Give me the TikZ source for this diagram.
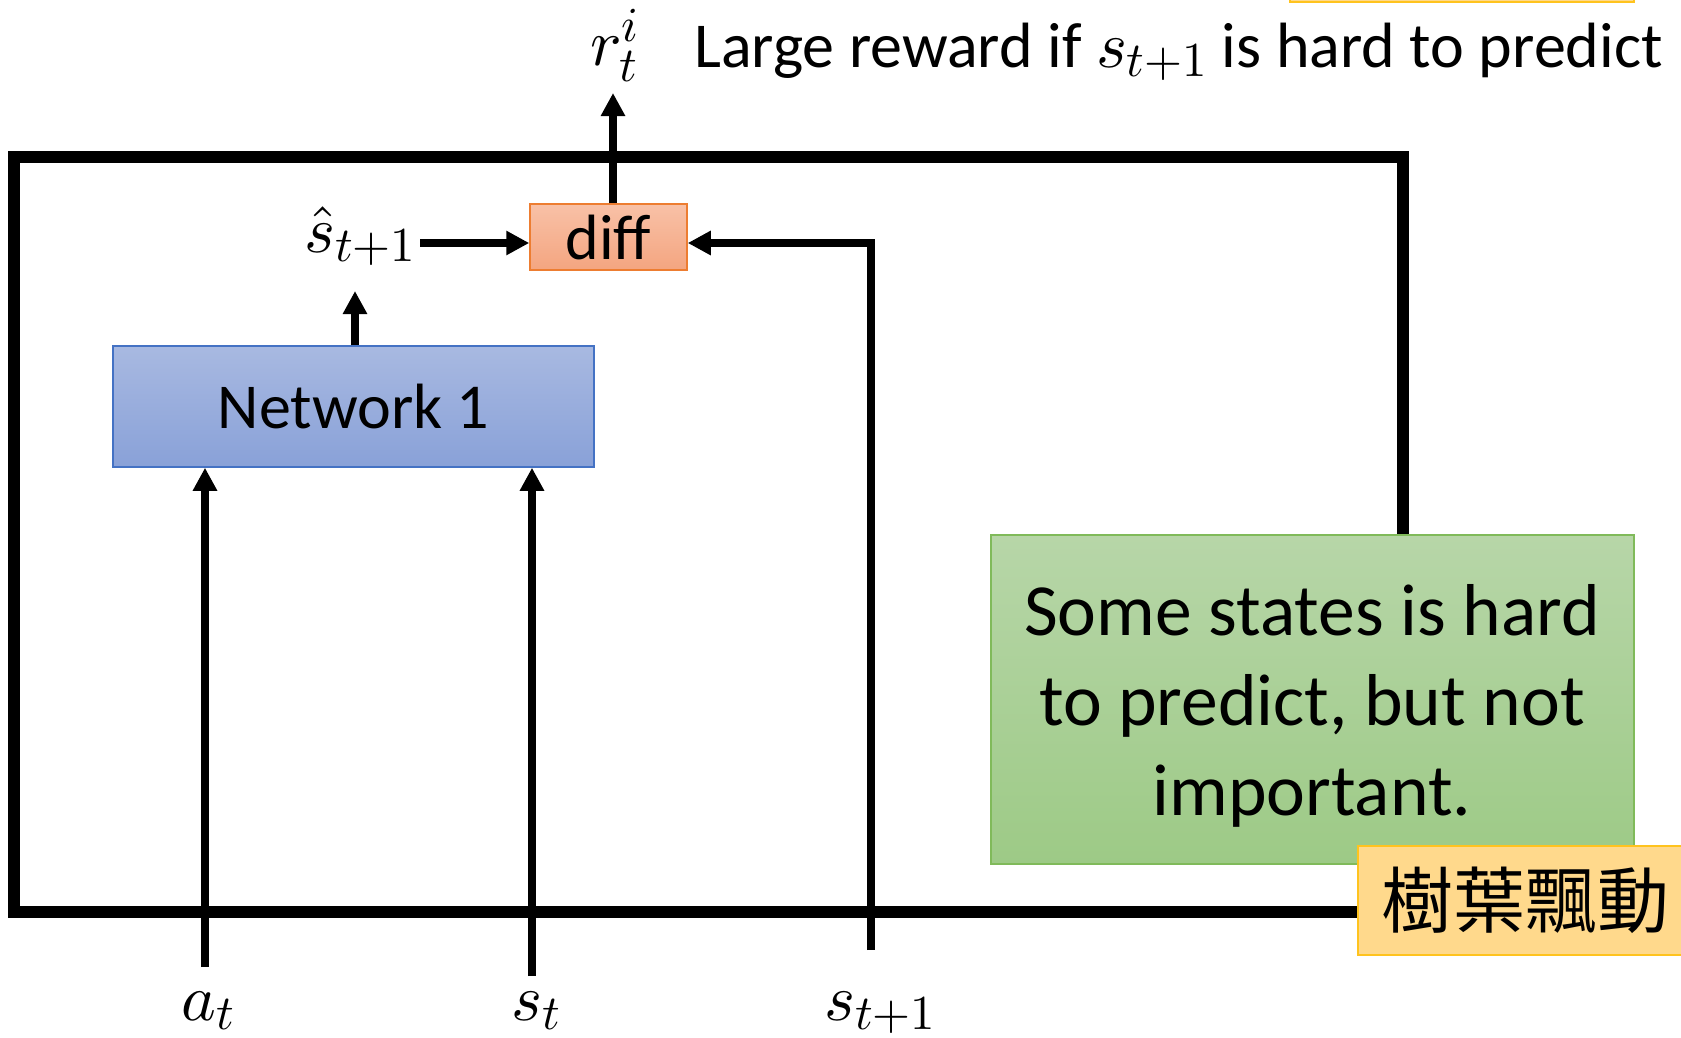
\documentclass[tikz,border=0pt]{standalone}
\usepackage{fontspec}
\setmainfont{Carlito}
\newfontfamily\cjk{Noto Sans CJK TC}
\DeclareFontShape{OML}{cmm}{m}{it}{<->cmmi10}{}
\DeclareFontShape{OMS}{cmsy}{m}{n}{<->cmsy10}{}
\DeclareFontShape{OMX}{cmex}{m}{n}{<->cmex10}{}
\DeclareFontShape{OT1}{cmr}{m}{n}{<->cmr10}{}
\renewcommand\defaultscriptratio{.74}
\usetikzlibrary{arrows.meta}
\definecolor{netTop}{RGB}{168,185,225}
\definecolor{netBot}{RGB}{137,161,216}
\definecolor{netLine}{RGB}{68,114,196}
\definecolor{diffTop}{RGB}{248,193,167}
\definecolor{diffBot}{RGB}{244,165,128}
\definecolor{diffLine}{RGB}{237,125,49}
\definecolor{grTop}{RGB}{183,214,168}
\definecolor{grBot}{RGB}{157,202,134}
\definecolor{grLine}{RGB}{128,186,90}
\definecolor{yeFill}{RGB}{255,217,140}
\definecolor{yeLine}{RGB}{255,195,30}
\begin{document}
\begin{tikzpicture}[x=1pt,y=-1pt,
  arr/.style={line width=8pt,-{Triangle[length=23pt,width=23pt]}},
  frameline/.style={line width=12pt,line join=miter},
  boxbase/.style={draw,line width=1.5pt,inner sep=0pt},
  netbox/.style={boxbase,draw=netLine,top color=netTop,bottom color=netBot,font=\fontsize{64}{76}\selectfont},
  diffbox/.style={boxbase,draw=diffLine,top color=diffTop,bottom color=diffBot,font=\fontsize{64}{76}\selectfont},
  grbox/.style={boxbase,draw=grLine,top color=grTop,bottom color=grBot},
  grtext/.style={inner sep=0pt,align=center,font=\fontsize{73.5}{90}\selectfont},
  yebox/.style={boxbase,draw=yeLine,fill=yeFill,font=\fontsize{72}{80}\selectfont\cjk},
  lbl/.style={inner sep=0pt,font=\fontsize{66}{80}\selectfont},
  txt/.style={inner sep=0pt,font=\fontsize{64}{76}\selectfont}
]
\useasboundingbox (0,0) rectangle (1681,1037);
\clip (0,0) rectangle (1681,1037);

% outer frame
\coordinate (fA) at (1403,535);
\coordinate (fB) at (1403,157);
\coordinate (fC) at (14,157);
\coordinate (fD) at (14,912);
\coordinate (fE) at (1358,912);
\draw[frameline] (fA) -- (fB) -- (fC) -- (fD) -- (fE);

% boxes
\node[netbox, minimum width=481pt, minimum height=121pt] (net) at (353.5,406.5) {Network 1};
\node[diffbox, minimum width=157pt, minimum height=66pt] (diff) at (608.5,237) {diff};
\node[grbox, minimum width=643pt, minimum height=329pt] (green) at (1312.5,699.5) {};
\node[grtext] (greentxt) at (1312,706)
  {Some states is hard\\to predict, but not\\important.};
\node[yebox, minimum width=334pt, minimum height=109pt] (ye) at (1525,900.5) {樹葉飄動};
\node[yebox, minimum width=344pt, minimum height=30pt] (yetop) at (1462,-13) {};

% labels
\node[lbl, anchor=base west] (shat) at (304,252) {$\hat{s}_{t+1}$};
\node[lbl, anchor=base west] (rti) at (590,65) {$r_t^i$};
\node[txt, anchor=base west] (large) at (694,67) {Large reward if {\fontsize{66}{80}\selectfont$s_{t+1}$} is hard to predict};
\node[lbl, anchor=base] (atl) at (208,1020) {$a_t$};
\node[lbl, anchor=base] (stl) at (536,1020) {$s_t$};
\node[lbl, anchor=base] (s1l) at (880,1020) {$s_{t+1}$};

% connectors
\coordinate (atB) at (205,967);
\draw[arr] (atB) -- (atB |- net.south);
\coordinate (stB) at (532,976);
\draw[arr] (stB) -- (stB |- net.south);
\coordinate (s1B) at (871,950);
\coordinate (s1C) at (871,243);
\draw[arr] (s1B) -- (s1C) -- (s1C -| diff.east);
\coordinate (shatB) at (355,291);
\draw[arr] (shatB |- net.north) -- (shatB);
\coordinate (shatE) at (420,243);
\draw[arr] (shatE) -- (shatE -| diff.west);
\coordinate (rB) at (613,93);
\draw[arr] (rB |- diff.north) -- (rB);
\end{tikzpicture}
\end{document}
